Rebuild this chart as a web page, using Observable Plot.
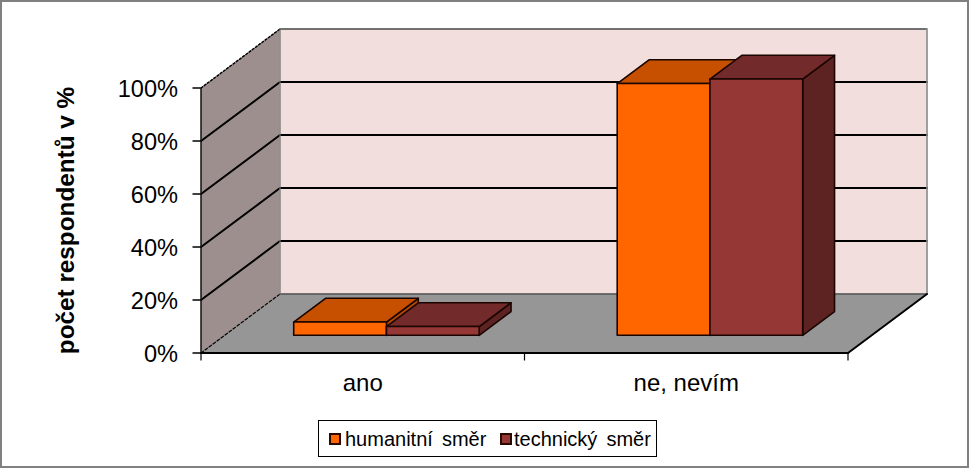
<!DOCTYPE html>
<html lang="cs">
<head>
<meta charset="utf-8">
<script src="https://cdn.jsdelivr.net/npm/d3@7"></script>
<script src="https://cdn.jsdelivr.net/npm/@observablehq/plot@0.6"></script>
<style>
  html, body { margin: 0; padding: 0; background: #fff; }
  #chart { position: relative; width: 969px; height: 468px; background: #fff; overflow: hidden;
           outline: 2px solid #808080; outline-offset: -2px; }
  #chart svg { display: block; position: absolute; left: 0; top: 0; background: transparent; }
  #legend { position: absolute; left: 318px; top: 420px; width: 339px; height: 37px; box-sizing: border-box;
            border: 1px solid #000; background: #fff; font: 20px "Liberation Sans", Arial, sans-serif; word-spacing: 3.5px; color: #000; }
  #legend span.sw { position: absolute; top: 12px; width: 12px; height: 12px; box-sizing: border-box; border: 2px solid #2a0a00; }
  #legend span.t { position: absolute; top: 6px; white-space: nowrap; line-height: 24px; }
</style>
</head>
<body>
<div id="chart"></div>
<script>
const categories = ["ano", "ne, nevím"];
const humanitni = [5, 95];
const technicky = [3.3, 96.7];
const seriesNames = ["humanitní směr", "technický směr"];
const yTicks = [0, 20, 40, 60, 80, 100];
const gridValues = [20, 40, 60, 80];
const seriesColors = [
  {front: "#ff6600", top: "#c65000", side: "#b24700"},
  {front: "#953735", top: "#722b2a", side: "#5c2322"}
];

// oblique projection: depth 0 = front plane, depth 1 = back wall
const depthX = 79 / 323.5, depthY = 59 / 2.65;
const P = (c, v, d) => ({x: c + d * depthX, y: v + d * depthY});
const outline = "#1a0500";

function poly(points, options) {
  const closed = [...points, points[0]];
  return Plot.line(closed, {x: "x", y: "y", curve: "linear", strokeLinejoin: "round", ...options});
}
function seg(a, b, options) {
  return Plot.line([a, b], {x: "x", y: "y", stroke: "#000", strokeWidth: 2, ...options});
}

const n = categories.length;
const marks = [];

// walls and floor
marks.push(poly([P(0, 0, 1), P(n, 0, 1), P(n, 100, 1), P(0, 100, 1)], {fill: "#f3dede", stroke: "#9a9a9a", strokeWidth: 1.5}));
marks.push(poly([P(0, 0, 0), P(0, 0, 1), P(0, 100, 1), P(0, 100, 0)], {fill: "#9e8f8f", stroke: "none"}));
marks.push(poly([P(0, 0, 0), P(n, 0, 0), P(n, 0, 1), P(0, 0, 1)], {fill: "#969696", stroke: "none"}));

// gridlines
for (const v of gridValues) {
  marks.push(Plot.line([P(0, v, 0), P(0, v, 1), P(n, v, 1)], {x: "x", y: "y", stroke: "#000", strokeWidth: 2}));
}
marks.push(seg(P(0, 100, 1), P(n, 100, 1), {strokeWidth: 1.2, stroke: "#333"}));
marks.push(seg(P(0, 100, 0), P(0, 100, 1), {strokeWidth: 1.5, strokeDasharray: "2,2"}));
marks.push(seg(P(0, 0, 0), P(0, 0, 1), {strokeWidth: 1.2, strokeDasharray: "3,2"}));
marks.push(seg(P(0, 0, 1), P(n, 0, 1), {strokeWidth: 1.2, stroke: "#333"}));
marks.push(seg(P(0, 0, 1), P(0, 100, 1), {strokeWidth: 1, stroke: "#8a8a8a"}));
marks.push(seg(P(n, 0, 1), P(n, 100, 1), {strokeWidth: 1.5, stroke: "#9a9a9a"}));
marks.push(seg(P(0, 0, 0), P(0, 100, 0), {strokeWidth: 1.5, stroke: "#111"}));
marks.push(seg(P(0, 0, 0), P(n, 0, 0), {strokeWidth: 2}));
marks.push(seg(P(n, 0, 0), P(n, 0, 1), {strokeWidth: 2}));

// bars
const gap = 0.2133, barW = (1 - 2 * 0.2133) / 2, d0 = 0.30, d1 = 0.703;
function bar(i, s, v) {
  const x0 = i + gap + s * barW, x1 = x0 + barW, c = seriesColors[s];
  const st = {stroke: outline, strokeWidth: 1.6};
  marks.push(poly([P(x1, 0, d0), P(x1, 0, d1), P(x1, v, d1), P(x1, v, d0)], {fill: c.side, ...st}));
  marks.push(poly([P(x0, v, d0), P(x1, v, d0), P(x1, v, d1), P(x0, v, d1)], {fill: c.top, ...st}));
  marks.push(poly([P(x0, 0, d0), P(x1, 0, d0), P(x1, v, d0), P(x0, v, d0)], {fill: c.front, ...st}));
}
categories.forEach((_, i) => {
  bar(i, 0, humanitni[i]);
  bar(i, 1, technicky[i]);
});

// axes
marks.push(Plot.axisY({ticks: yTicks, tickFormat: () => "", tickSize: 8, stroke: "#000", strokeWidth: 1.5, label: null}));
marks.push(Plot.axisY({ticks: yTicks, tickFormat: d => d + "%", tickSize: 0, tickPadding: 23, dy: 1.5, label: null, fontSize: 23.6}));
marks.push(Plot.axisY({ticks: [], label: "počet respondentů v %", labelAnchor: "center", labelArrow: "none", labelOffset: 144, dy: -2, fontSize: 24.3, fontWeight: "bold"}));
marks.push(Plot.axisX({ticks: d3.range(n + 1), tickFormat: () => "", tickSize: 8, stroke: "#000", strokeWidth: 1.2, label: null}));
marks.push(Plot.axisX({ticks: categories.map((_, i) => i + 0.5), tickFormat: d => categories[Math.floor(d)], tickSize: 0, tickPadding: 21, label: null, fontSize: 24}));

const plot = Plot.plot({
  width: 969,
  height: 420,
  marginLeft: 200.5,
  marginRight: 121.5,
  marginTop: 87.5,
  marginBottom: 67.5,
  style: {fontFamily: "'Liberation Sans', Arial, sans-serif", color: "#000", overflow: "visible"},
  x: {type: "linear", domain: [0, n]},
  y: {type: "linear", domain: [0, 100]},
  marks
});

const chart = document.getElementById("chart");
chart.appendChild(plot);

const legend = document.createElement("div");
legend.id = "legend";
const lefts = [[10, 26], [181, 195]];
seriesNames.forEach((name, i) => {
  const sw = document.createElement("span");
  sw.className = "sw";
  sw.style.left = lefts[i][0] + "px";
  sw.style.background = seriesColors[i].front;
  legend.appendChild(sw);
  const t = document.createElement("span");
  t.className = "t";
  t.style.left = lefts[i][1] + "px";
  t.textContent = name;
  legend.appendChild(t);
});
chart.appendChild(legend);
</script>
</body>
</html>
